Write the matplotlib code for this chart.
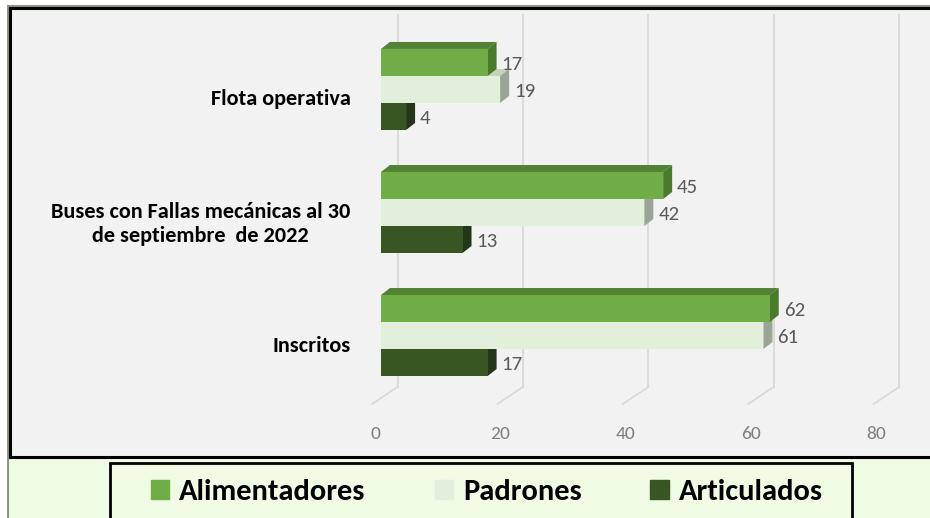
import matplotlib.pyplot as plt
import matplotlib.patches as mpatches
from matplotlib.transforms import ScaledTranslation, blended_transform_factory, IdentityTransform
import numpy as np

categories = ['Flota operativa', 'Buses con Fallas mecánicas al 30\nde septiembre  de 2022', 'Inscritos']
series = ['Alimentadores', 'Padrones', 'Articulados']
alimentadores = [17, 45, 62]
padrones = [19, 42, 61]
articulados = [4, 13, 17]
xticks = [0, 20, 40, 60, 80]

front = ['#70AD47', '#E2EFDA', '#375623']
top = ['#548235', '#C5D3BC', '#2A4219']
side = ['#4A7A2C', '#9AA595', '#22361A']

FONT = ['Carlito', 'Lato', 'DejaVu Sans']

W, H = 930, 518
fig = plt.figure(figsize=(W / 100, H / 100), dpi=100)
fig.patch.set_facecolor('white')

def px(x, y, w, h):
    # pixel box (from top-left) -> figure fraction
    return [x / W, 1 - (y + h) / H, w / W, h / H]

# outer green area with thin grey edge
fig.add_artist(mpatches.Rectangle((7.5 / W, -0.1), 1.2, 1.1 - 6 / H, transform=fig.transFigure,
                                  facecolor='#EFFBE3', edgecolor='#8A9686', lw=1.5, zorder=-5))

# chart box (right edge runs off the picture)
box = fig.add_axes(px(10, 8.5, 1000, 448))
box.set_facecolor('#F2F2F2')
box.set_xticks([])
box.set_yticks([])
for s in box.spines.values():
    s.set_linewidth(2.2)
    s.set_edgecolor('black')

# legend box (bottom runs off the picture)
fig.add_artist(mpatches.Rectangle((110 / W, -0.1), 742 / W, 0.1 + (518 - 463) / H,
                                  transform=fig.transFigure, facecolor='#EFFBE3',
                                  edgecolor='black', lw=2, zorder=1))

ax = fig.add_axes(px(381, 49, 6.27 * 80, 327))
ax.patch.set_alpha(0)
ax.set_xlim(0, 80)
bar_h = 27 / 123
ax.set_ylim(2 + 0.329, -0.329)
for s in ax.spines.values():
    s.set_visible(False)

dx, dy = 9, 7  # depth offset in pixels

def shift(tr, x, y):
    return tr + ScaledTranslation(x / 100, y / 100, fig.dpi_scale_trans)

# back wall gridlines + floor lines
grid_tr = blended_transform_factory(shift(ax.transData, 16.5, 0), fig.transFigure)
floor_tr = blended_transform_factory(shift(ax.transData, -9, 0), fig.transFigure)
for v in xticks:
    ax.plot([v, v], [1 - 15 / H, 1 - 387 / H], color='#D9D9D9', lw=1.3,
            transform=grid_tr, clip_on=False, zorder=0)
    ax.plot([v + 25.5 / 6.27, v], [1 - 387 / H, 1 - 404 / H], color='#D9D9D9', lw=1.3,
            transform=floor_tr, clip_on=False, zorder=0)

ax.set_xticks(xticks)
ax.set_xticklabels([str(v) for v in xticks], fontsize=14, color='#7F7F7F', family=FONT)
ax.tick_params(axis='x', length=0, pad=36)
for lab in ax.get_xticklabels():
    lab.set_transform(shift(lab.get_transform(), -6, 0))

ax.set_yticks(range(len(categories)))
ax.set_yticklabels(categories, fontsize=16, fontweight='bold', multialignment='center', family=FONT)
ax.tick_params(axis='y', length=0, pad=22)
for lab in ax.get_yticklabels():
    lab.set_transform(shift(lab.get_transform(), 0, -8))

y = np.arange(len(categories))
offsets = [-bar_h, 0, bar_h]
values = [alimentadores, padrones, articulados]

# draw bottom series first so upper bars cover lower top faces
for k in [2, 1, 0]:
    z = 3 + (2 - k) * 2
    bars = ax.barh(y + offsets[k], values[k], height=bar_h, color=front[k],
                   label=series[k], zorder=z)
    for b in bars:
        (x0, y0), (x1, y1) = ax.transData.transform([(b.get_x(), b.get_y()),
                                                     (b.get_x() + b.get_width(), b.get_y() + b.get_height())])
        yt, yb = max(y0, y1), min(y0, y1)
        topface = mpatches.Polygon([(x0, yt), (x1, yt), (x1 + dx, yt + dy), (x0 + dx, yt + dy)],
                                   closed=True, facecolor=top[k], edgecolor='none', zorder=z - 1)
        sideface = mpatches.Polygon([(x1, yt), (x1, yb), (x1 + dx, yb + dy), (x1 + dx, yt + dy)],
                                    closed=True, facecolor=side[k], edgecolor='none', zorder=z - 1)
        for p in (topface, sideface):
            p.set_transform(IdentityTransform())
            p.set_clip_on(False)
            ax.add_patch(p)
    for yy, v in zip(y + offsets[k], values[k]):
        ax.text(v, yy, str(v), transform=shift(ax.transData, dx + 5, -2),
                fontsize=15, color='#595959', va='center', ha='left', family=FONT, zorder=10)

handles = [mpatches.Patch(color=front[k]) for k in range(3)]
leg = fig.legend(handles, series, loc='center left', bbox_to_anchor=(151 / W, 1 - 492 / H),
                 ncol=3, frameon=False, handlelength=0.6, handleheight=0.6,
                 handletextpad=0.33, columnspacing=2.25, borderpad=0, borderaxespad=0,
                 prop={'weight': 'bold', 'size': 22, 'family': FONT})
leg.set_zorder(2)

fig.savefig('out.png', dpi=100, facecolor=fig.get_facecolor())
